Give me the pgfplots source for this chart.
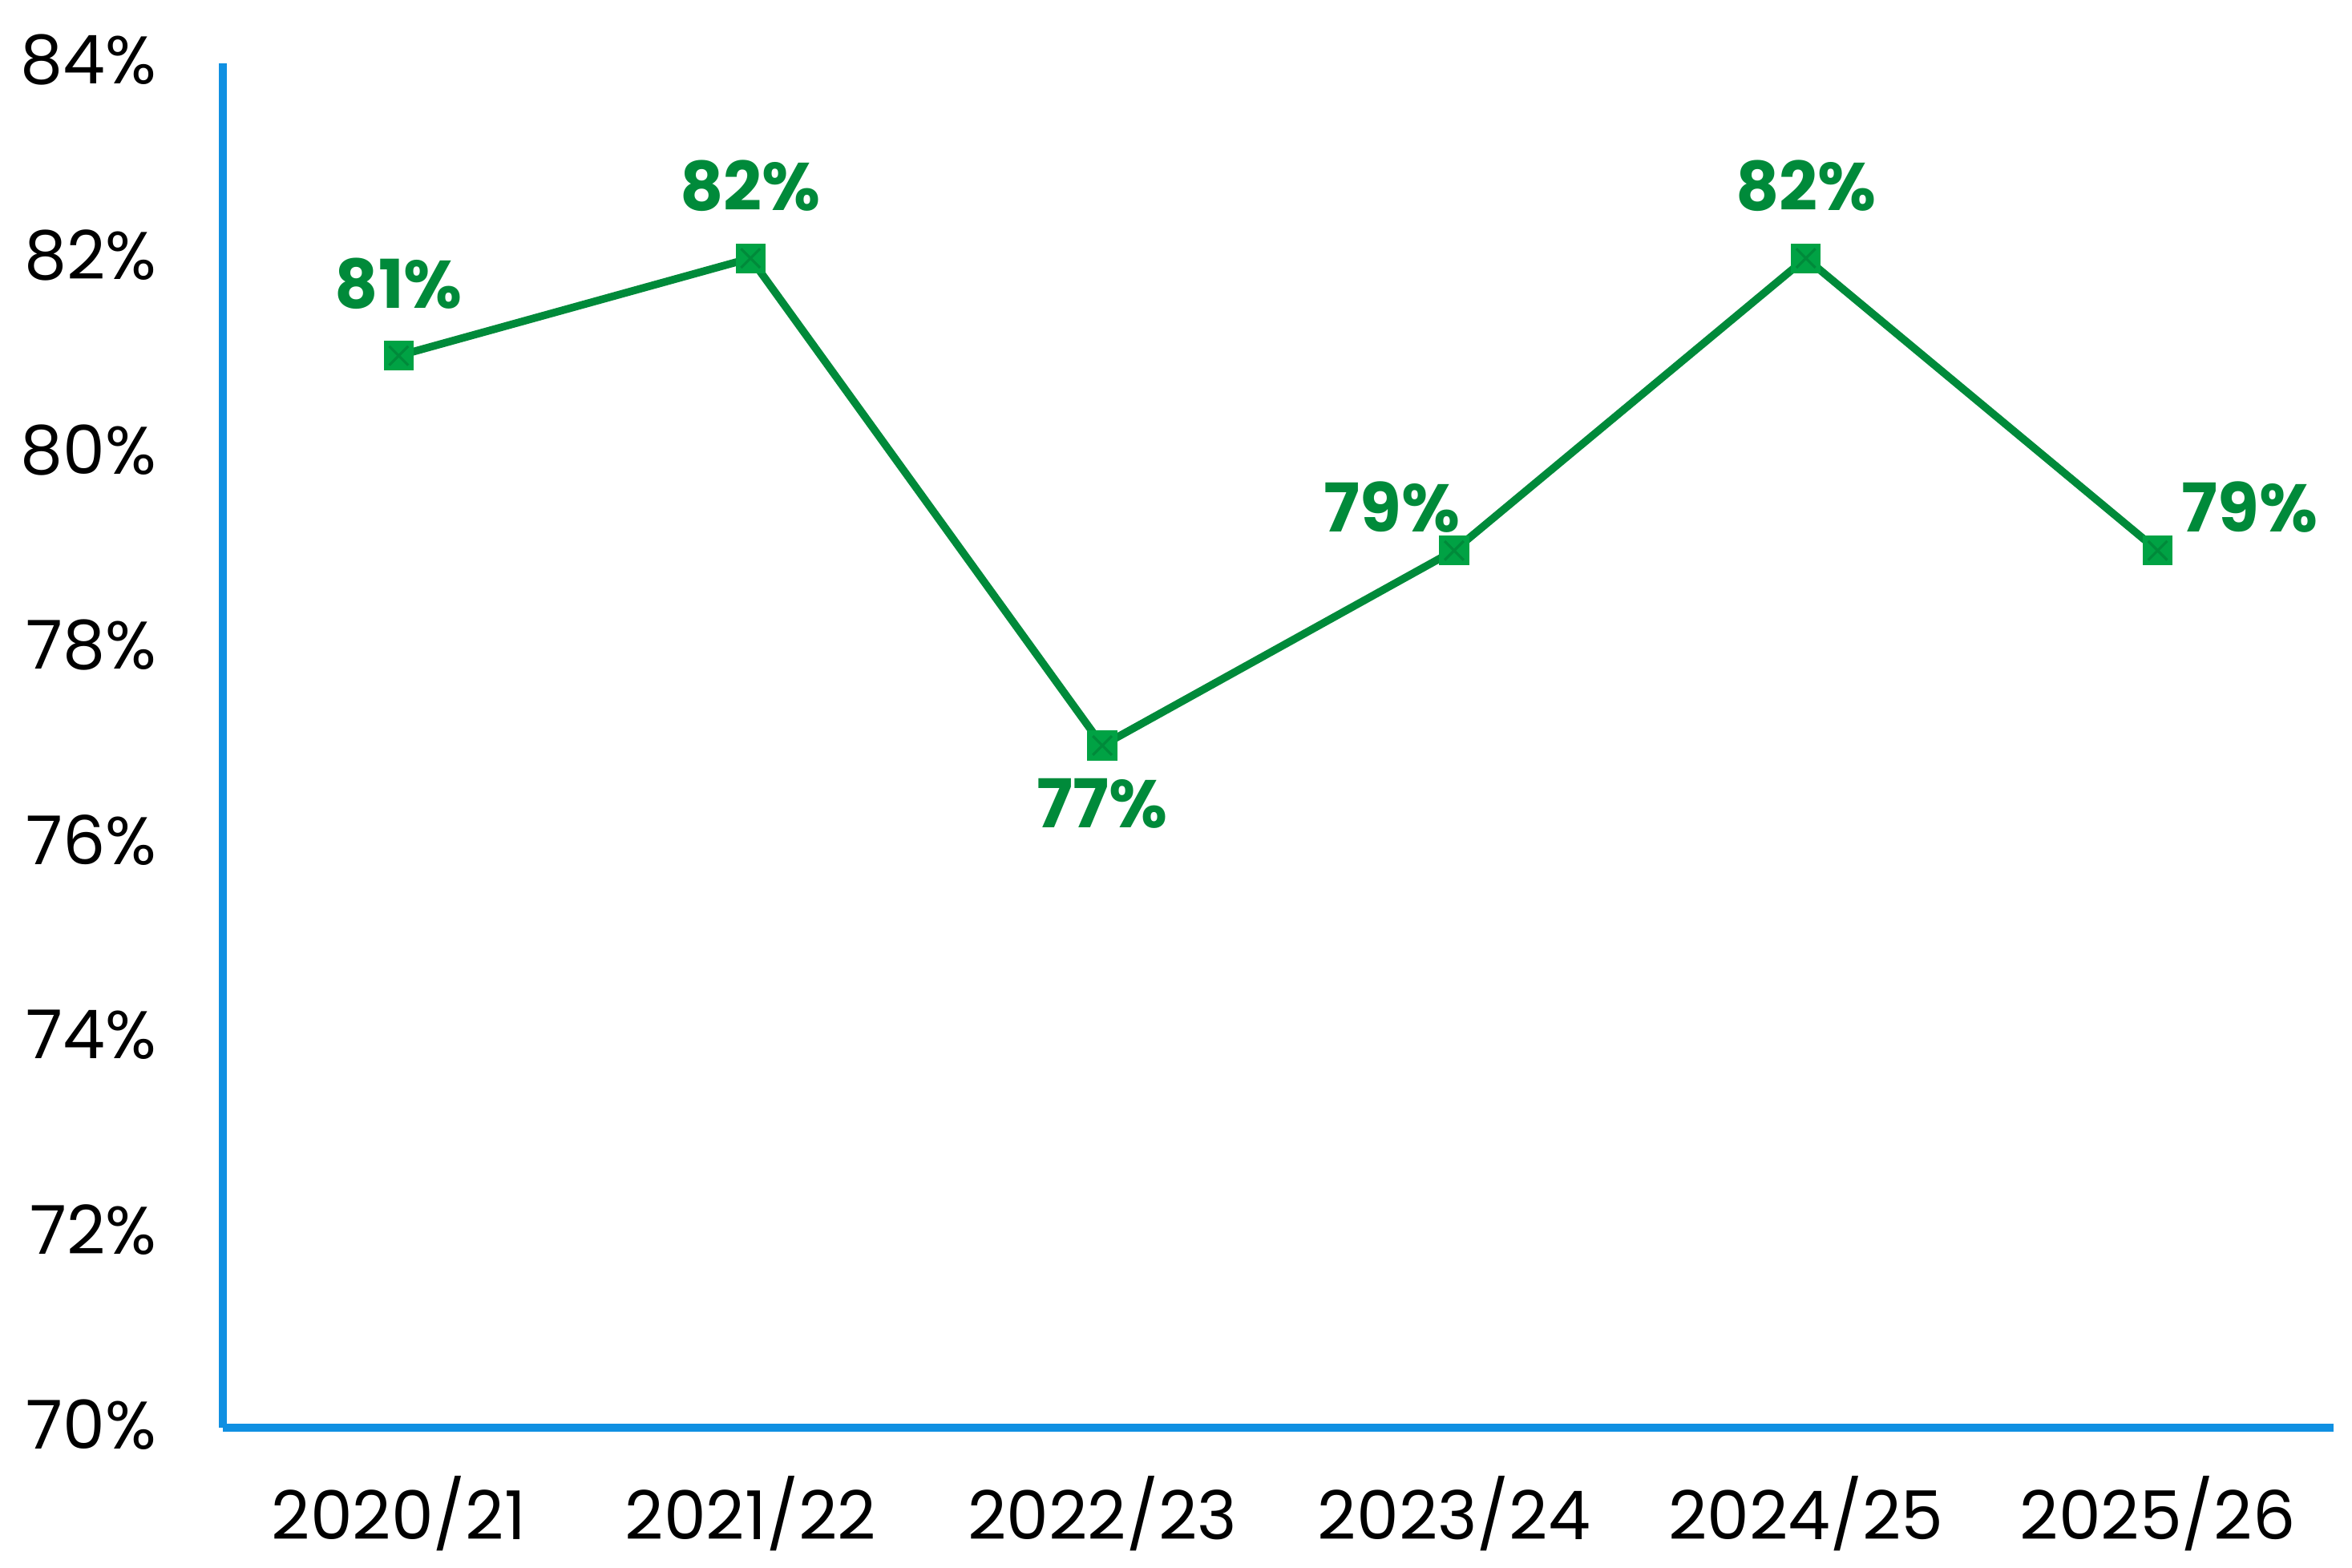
\documentclass[border=0pt]{standalone}
\usepackage{pgfplots}
\pgfplotsset{compat=1.18}
\usepackage{fontspec}
\setmainfont{Poppins}

\definecolor{axisblue}{RGB}{16,144,226}
\definecolor{linegreen}{RGB}{0,138,58}
\definecolor{markgreen}{RGB}{0,162,68}

\pgfplotstableread{
x y lbl dx dy
0 81 81\% 0 22.4
1 82 82\% 0 22.5
2 77 77\% 0 -18
3 79 79\% -19.4 13.6
4 82 82\% 0 22.5
5 79 79\% 28.8 13.6
}\ratedata

\begin{document}
\begin{tikzpicture}
\useasboundingbox (-69.5pt,-43.75pt) rectangle (664pt,445.25pt);
\begin{axis}[
    scale only axis,
    width=658.25pt, height=425.5pt,
    xmin=-0.5, xmax=5.5,
    ymin=70, ymax=84,
    axis x line=bottom, axis y line=left,
    axis line style={axisblue, line width=2.5pt, -},
    xtick={0,1,2,3,4,5},
    xticklabels={2020/21,2021/22,2022/23,2023/24,2024/25,2025/26},
    ytick={70,72,74,76,78,80,82,84},
    yticklabel={\pgfmathprintnumber{\tick}\%},
    major tick length=0pt,
    tick style={draw=none},
    /pgf/number format/assume math mode=true,
    ticklabel style={font=\fontsize{21}{24}\selectfont, text=black, inner sep=0pt},
    yticklabel style={anchor=east, xshift=-20.5pt, yshift=1pt},
    xticklabel style={anchor=north, yshift=-15pt},
    clip=false,
]
\addplot[linegreen, line width=2.4pt, mark=square*,
    mark size=4.5pt, mark options={fill=markgreen, draw=markgreen, line width=0.3pt},
    visualization depends on={\thisrow{dx} \as \ldx},
    visualization depends on={\thisrow{dy} \as \ldy},
    nodes near coords, point meta=explicit symbolic,
    every node near coord/.style={anchor=center, inner sep=0pt,
        font=\fontsize{21}{24}\selectfont\bfseries, text=linegreen,
        xshift=\ldx pt, yshift=\ldy pt}]
    table[x=x, y=y, meta=lbl] {\ratedata};
\addplot[only marks, mark=x, mark size=4.2pt, linegreen, line width=0.8pt]
    table[x=x, y=y] {\ratedata};
\end{axis}
\end{tikzpicture}
\end{document}
